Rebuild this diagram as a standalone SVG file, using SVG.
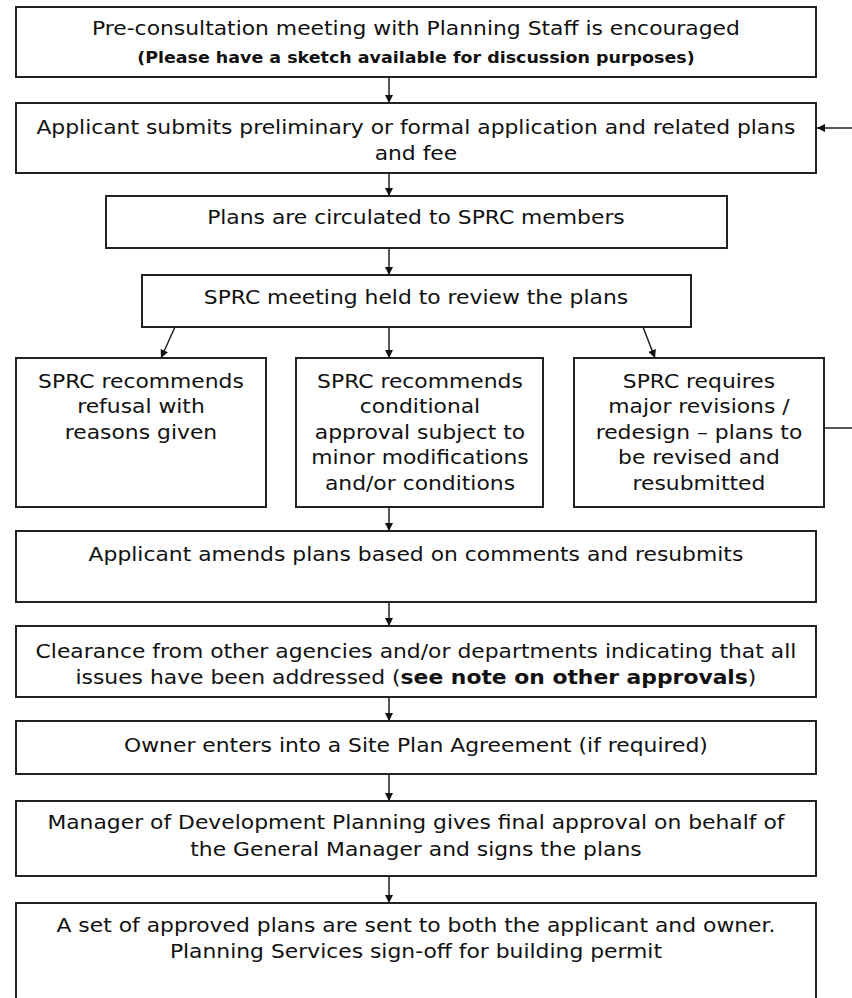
<svg xmlns="http://www.w3.org/2000/svg" width="852" height="998" viewBox="0 0 852 998">
<defs>
<style>
.box{fill:#fff;stroke:#222;stroke-width:2}
.t{font-family:"DejaVu Sans",Verdana,sans-serif;font-size:19px;fill:#111;text-anchor:middle}
.b{font-weight:bold}
.sb{font-size:15.2px;font-weight:bold}
.c{fill:none;stroke:#222;stroke-width:1.5}
</style>
<marker id="ah" viewBox="0 0 10 10" refX="10" refY="5" markerWidth="9" markerHeight="8" markerUnits="userSpaceOnUse" orient="auto">
<path d="M0,0 L10,5 L0,10 z" fill="#111"/>
</marker>
</defs>
<rect width="852" height="998" fill="#fff"/>
<g id="connectors">
<line class="c" x1="389" y1="77" x2="389" y2="103" marker-end="url(#ah)"/>
<line class="c" x1="389" y1="173" x2="389" y2="196" marker-end="url(#ah)"/>
<line class="c" x1="389" y1="248" x2="389" y2="275" marker-end="url(#ah)"/>
<line class="c" x1="175" y1="327" x2="161" y2="358" marker-end="url(#ah)"/>
<line class="c" x1="389" y1="327" x2="389" y2="358" marker-end="url(#ah)"/>
<line class="c" x1="643" y1="327" x2="655" y2="358" marker-end="url(#ah)"/>
<line class="c" x1="389" y1="507" x2="389" y2="531" marker-end="url(#ah)"/>
<line class="c" x1="389" y1="602" x2="389" y2="626" marker-end="url(#ah)"/>
<line class="c" x1="389" y1="697" x2="389" y2="721" marker-end="url(#ah)"/>
<line class="c" x1="389" y1="774" x2="389" y2="801" marker-end="url(#ah)"/>
<line class="c" x1="389" y1="876" x2="389" y2="903" marker-end="url(#ah)"/>
<polyline class="c" points="824,428 862,428 862,128 817,128" marker-end="url(#ah)"/>
</g>
<g id="n1"><rect class="box" x="16" y="7" width="800" height="70"/>
<text class="t" transform="scale(1.15 1)" x="361.7" y="35">Pre-consultation meeting with Planning Staff is encouraged</text>
<text class="t sb" transform="scale(1.15 1)" x="361.7" y="63">(Please have a sketch available for discussion purposes)</text></g>
<g id="n2"><rect class="box" x="16" y="103" width="800" height="70"/>
<text class="t" transform="scale(1.15 1)" x="361.7" y="134">Applicant submits preliminary or formal application and related plans</text>
<text class="t" transform="scale(1.15 1)" x="361.7" y="160">and fee</text></g>
<g id="n3"><rect class="box" x="106" y="196" width="621" height="52"/>
<text class="t" transform="scale(1.15 1)" x="361.7" y="224">Plans are circulated to SPRC members</text></g>
<g id="n4"><rect class="box" x="142" y="275" width="549" height="52"/>
<text class="t" transform="scale(1.15 1)" x="361.7" y="304">SPRC meeting held to review the plans</text></g>
<g id="n5"><rect class="box" x="16" y="358" width="250" height="149"/>
<text class="t" transform="scale(1.15 1)" x="122.6" y="388">SPRC recommends</text>
<text class="t" transform="scale(1.15 1)" x="122.6" y="413.5">refusal with</text>
<text class="t" transform="scale(1.15 1)" x="122.6" y="439">reasons given</text></g>
<g id="n6"><rect class="box" x="296" y="358" width="247" height="149"/>
<text class="t" transform="scale(1.15 1)" x="365.2" y="388">SPRC recommends</text>
<text class="t" transform="scale(1.15 1)" x="365.2" y="413.5">conditional</text>
<text class="t" transform="scale(1.15 1)" x="365.2" y="439">approval subject to</text>
<text class="t" transform="scale(1.15 1)" x="365.2" y="464.5">minor modifications</text>
<text class="t" transform="scale(1.15 1)" x="365.2" y="490">and/or conditions</text></g>
<g id="n7"><rect class="box" x="574" y="358" width="250" height="149"/>
<text class="t" transform="scale(1.15 1)" x="607.8" y="388">SPRC requires</text>
<text class="t" transform="scale(1.15 1)" x="607.8" y="413.5">major revisions /</text>
<text class="t" transform="scale(1.15 1)" x="607.8" y="439">redesign – plans to</text>
<text class="t" transform="scale(1.15 1)" x="607.8" y="464.5">be revised and</text>
<text class="t" transform="scale(1.15 1)" x="607.8" y="490">resubmitted</text></g>
<g id="n8"><rect class="box" x="16" y="531" width="800" height="71"/>
<text class="t" transform="scale(1.15 1)" x="361.7" y="561">Applicant amends plans based on comments and resubmits</text></g>
<g id="n9"><rect class="box" x="16" y="626" width="800" height="71"/>
<text class="t" transform="scale(1.15 1)" x="361.7" y="658">Clearance from other agencies and/or departments indicating that all</text>
<text class="t" transform="scale(1.15 1)" x="361.7" y="684">issues have been addressed (<tspan class="b">see note on other approvals</tspan>)</text></g>
<g id="n10"><rect class="box" x="16" y="721" width="800" height="53"/>
<text class="t" transform="scale(1.15 1)" x="361.7" y="752">Owner enters into a Site Plan Agreement (if required)</text></g>
<g id="n11"><rect class="box" x="16" y="801" width="800" height="75"/>
<text class="t" transform="scale(1.15 1)" x="361.7" y="829">Manager of Development Planning gives final approval on behalf of</text>
<text class="t" transform="scale(1.15 1)" x="361.7" y="856">the General Manager and signs the plans</text></g>
<g id="n12"><rect class="box" x="16" y="903" width="800" height="110"/>
<text class="t" transform="scale(1.15 1)" x="361.7" y="932">A set of approved plans are sent to both the applicant and owner.</text>
<text class="t" transform="scale(1.15 1)" x="361.7" y="958">Planning Services sign-off for building permit</text></g>
</svg>
